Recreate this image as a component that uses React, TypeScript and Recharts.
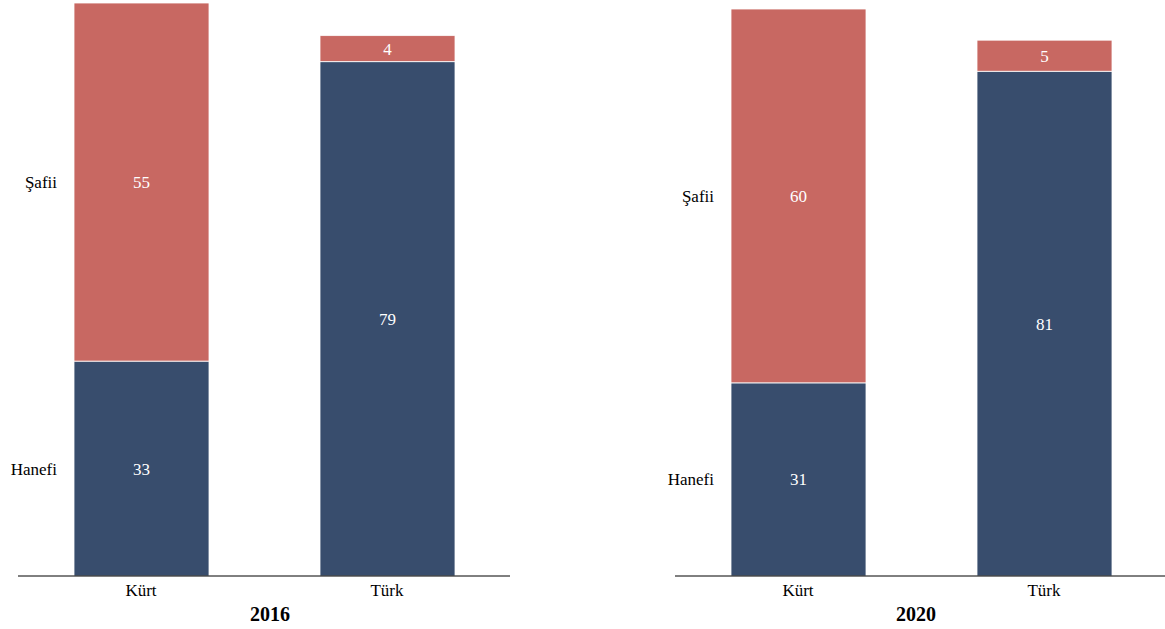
import React from 'react';
import { BarChart, Bar, XAxis, YAxis, LabelList } from 'recharts';

// etnik gruplara göre mezhep dağılımı (%)
const groups = ['Kürt', 'Türk'];
const series = ['Hanefi', 'Şafii'];
const hanefi2016 = [33, 79];
const safii2016 = [55, 4];
const hanefi2020 = [31, 81];
const safii2020 = [60, 5];

const COLORS = {
    hanefi: '#384D6D',
    safii: '#C86862',
};

const FONT = 'Liberation Serif, Times New Roman, serif';
const textStyle = { fontFamily: FONT, fontSize: '17px' };

const build = (hanefi: number[], safii: number[]) =>
    groups.map((g, i) => ({ group: g, hanefi: hanefi[i], safii: safii[i] }));

const CategoryTick = (props: any) => {
    const { x, y, payload } = props;
    return (
        <text x={x} y={y + 12} textAnchor="middle" fill="#000" fontFamily={FONT} fontSize={17} style={textStyle}>
            {payload.value}
        </text>
    );
};

// değer etiketi + ilk sütunun solunda seri adı
const makeLabel = (name: string) => (props: any) => {
    const { x, y, width, height, value, index } = props;
    const cy = y + height / 2;
    return (
        <g>
            <text x={x + width / 2} y={cy} dy="0.35em" textAnchor="middle" fill="#fff" fontFamily={FONT} fontSize={17} style={textStyle}>
                {value}
            </text>
            {index === 0 && (
                <text x={x - 17} y={cy} dy="0.35em" textAnchor="end" fill="#000" fontFamily={FONT} fontSize={17} style={textStyle}>
                    {name}
                </text>
            )}
        </g>
    );
};

type PanelProps = {
    data: { group: string; hanefi: number; safii: number }[];
    max: number;
    top: number;
    left: number;
    width: number;
    marginLeft: number;
    marginRight: number;
};

const Panel: React.FC<PanelProps> = ({ data, max, top, left, width, marginLeft, marginRight }) => (
    <div style={{ position: 'absolute', left, top: 0, fontFamily: FONT }}>
        <BarChart
            width={width}
            height={629}
            data={data}
            margin={{ top, right: marginRight, bottom: 0, left: marginLeft }}
            style={{ fontFamily: FONT }}
        >
            <XAxis
                dataKey="group"
                axisLine={{ stroke: '#000', strokeWidth: 1 }}
                tickLine={false}
                tick={<CategoryTick />}
                height={53}
                interval={0}
            />
            <YAxis hide domain={[0, max]} allowDataOverflow />
            <Bar dataKey="hanefi" stackId="a" fill={COLORS.hanefi} stroke="#fff" strokeWidth={0.8} barSize={135} isAnimationActive={false}>
                <LabelList dataKey="hanefi" content={makeLabel(series[0])} />
            </Bar>
            <Bar dataKey="safii" stackId="a" fill={COLORS.safii} stroke="#fff" strokeWidth={0.8} barSize={135} isAnimationActive={false}>
                <LabelList dataKey="safii" content={makeLabel(series[1])} />
            </Bar>
        </BarChart>
    </div>
);

const YearTitle: React.FC<{ text: string; center: number }> = ({ text, center }) => (
    <div
        style={{
            position: 'absolute',
            left: center - 50,
            width: 100,
            top: 602,
            textAlign: 'center',
            fontFamily: FONT,
            fontWeight: 'bold',
            fontSize: 20,
            lineHeight: '24px',
            color: '#000',
        }}
    >
        {text}
    </div>
);

const App: React.FC = () => {
    return (
        <div style={{ position: 'absolute', left: 0, top: 0, width: 1165, height: 629, overflow: 'hidden', background: '#fff' }}>
            <Panel data={build(hanefi2016, safii2016)} max={88} top={3} left={0} width={520} marginLeft={18} marginRight={10} />
            <Panel data={build(hanefi2020, safii2020)} max={91} top={9} left={640} width={530} marginLeft={35} marginRight={3} />
            <YearTitle text="2016" center={270} />
            <YearTitle text="2020" center={916} />
        </div>
    );
};

export default App;
